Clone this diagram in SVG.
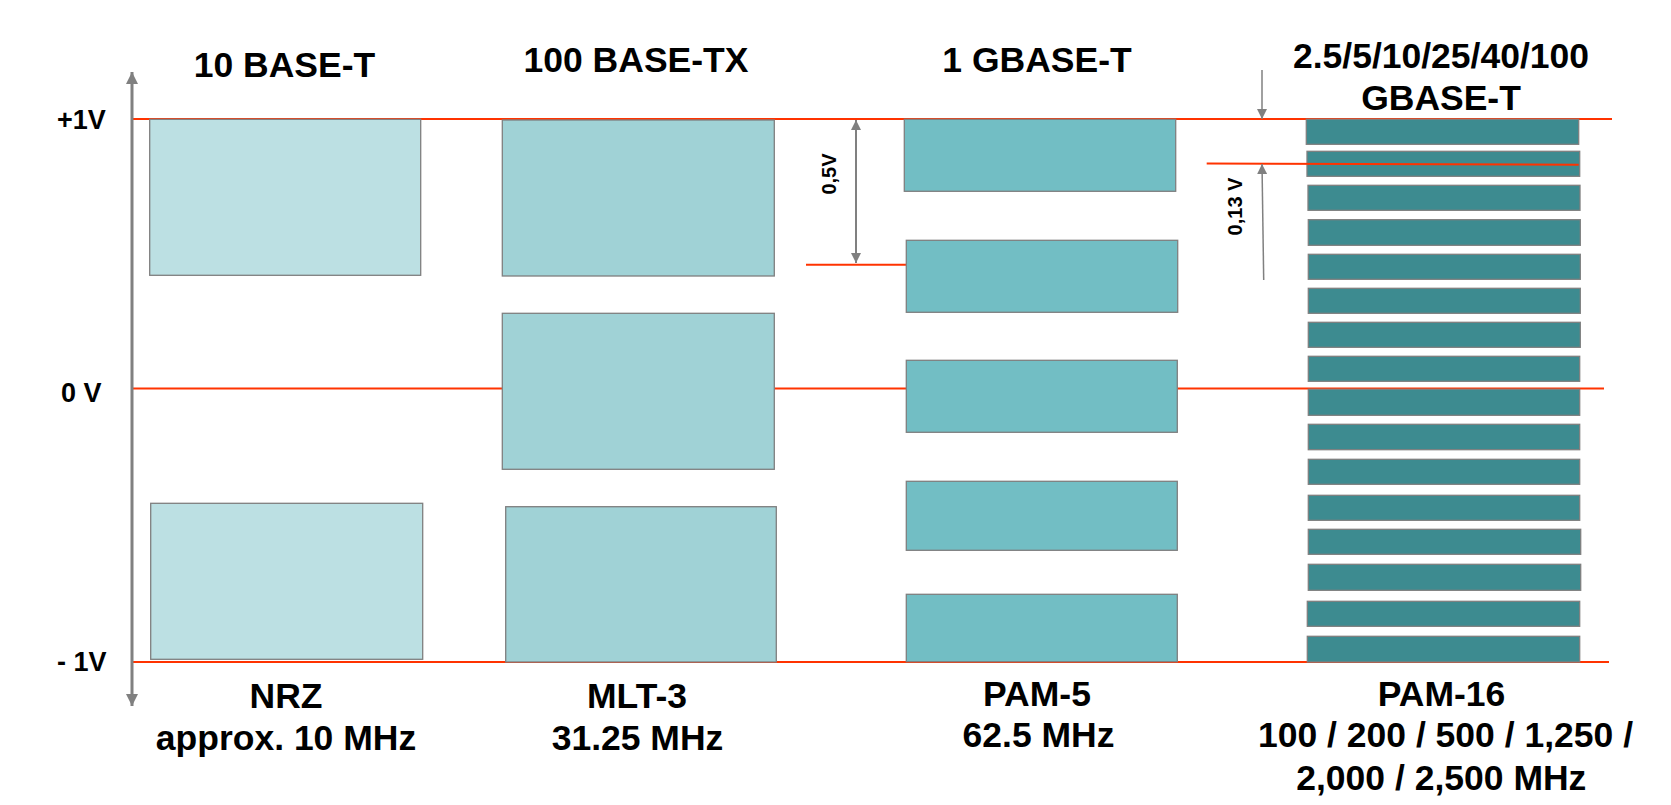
<svg xmlns="http://www.w3.org/2000/svg" width="1671" height="805" viewBox="0 0 1671 805">
<defs>
<style>
text{font-family:"Liberation Sans",Arial,sans-serif;font-weight:bold;fill:#000}
.t{font-size:35.5px;text-anchor:middle}
.v{font-size:27px}
.s{font-size:20px;text-anchor:middle}
.r{stroke:#7f7f7f;stroke-width:1.3}
.c1{fill:#bce0e3}.c2{fill:#a0d2d6}.c3{fill:#72bec4}.c4{fill:#3d8b90}
.red{stroke:#ff3300;stroke-width:2;fill:none}
.g{stroke:#808080;fill:none}
</style>
<marker id="ah" viewBox="0 0 10 10" refX="10" refY="5" markerWidth="10" markerHeight="10" markerUnits="userSpaceOnUse" orient="auto-start-reverse"><path d="M0,0 L10,5 L0,10 z" fill="#808080"/></marker>
<marker id="ahb" viewBox="0 0 12 12" refX="12" refY="6" markerWidth="12" markerHeight="12" markerUnits="userSpaceOnUse" orient="auto-start-reverse"><path d="M0,0 L12,6 L0,12 z" fill="#808080"/></marker>
</defs>
<rect width="1671" height="805" fill="#fff"/>
<g id="levels">
<line class="red" x1="132" y1="119" x2="1612" y2="119"/>
<line class="red" x1="132" y1="388.5" x2="1604" y2="388.5"/>
<line class="red" x1="132" y1="662" x2="1609" y2="662"/>
<line class="red" x1="806" y1="264.7" x2="906" y2="264.7"/>
</g>
<g id="col-10base-t">
<text class="t" x="284.5" y="76.7">10 BASE-T</text>
<rect class="r c1" x="149.7" y="119.3" width="271" height="156"/>
<rect class="r c1" x="150.7" y="503.3" width="272" height="156"/>
<text class="t" x="286" y="708.3">NRZ</text>
<text class="t" x="286" y="750">approx. 10 MHz</text>
</g>
<g id="col-100base-tx">
<text class="t" x="636" y="72.3">100 BASE-TX</text>
<rect class="r c2" x="502.3" y="120" width="272" height="156"/>
<rect class="r c2" x="502.3" y="313.3" width="272" height="156"/>
<rect class="r c2" x="505.7" y="506.7" width="270.6" height="155.3"/>
<text class="t" x="637" y="708.3">MLT-3</text>
<text class="t" x="637.5" y="750">31.25 MHz</text>
</g>
<g id="col-1gbase-t">
<text class="t" x="1037" y="71.7">1 GBASE-T</text>
<rect class="r c3" x="904.3" y="119.3" width="271.4" height="72"/>
<rect class="r c3" x="906.3" y="240.3" width="271.4" height="72"/>
<rect class="r c3" x="906.3" y="360.3" width="271" height="72"/>
<rect class="r c3" x="906.3" y="481.3" width="271" height="69"/>
<rect class="r c3" x="906.3" y="594.3" width="271" height="67.4"/>
<text class="t" x="1037" y="706">PAM-5</text>
<text class="t" x="1038.5" y="747.3">62.5 MHz</text>
</g>
<g id="col-multigbase-t">
<text class="t" x="1441" y="67.7">2.5/5/10/25/40/100</text>
<text class="t" x="1441" y="110">GBASE-T</text>
<rect class="r c4" x="1306.3" y="119.3" width="272.4" height="25"/>
<rect class="r c4" x="1307" y="151.3" width="272.7" height="25"/>
<rect class="r c4" x="1308" y="185.3" width="272" height="25"/>
<rect class="r c4" x="1308.3" y="219.7" width="272" height="25.6"/>
<rect class="r c4" x="1308.3" y="254.3" width="272" height="25"/>
<rect class="r c4" x="1308.3" y="288.3" width="272" height="25"/>
<rect class="r c4" x="1308.3" y="322.3" width="272" height="25"/>
<rect class="r c4" x="1308.3" y="356.3" width="271.4" height="25"/>
<rect class="r c4" x="1308.3" y="389.3" width="271.4" height="26"/>
<rect class="r c4" x="1308.3" y="424.3" width="271.4" height="25.4"/>
<rect class="r c4" x="1308.3" y="459.3" width="271.4" height="25"/>
<rect class="r c4" x="1308.3" y="495.3" width="271.4" height="25"/>
<rect class="r c4" x="1308.3" y="529.3" width="272.4" height="25"/>
<rect class="r c4" x="1308.3" y="564.3" width="272.4" height="26"/>
<rect class="r c4" x="1307.3" y="601.3" width="272.4" height="25"/>
<rect class="r c4" x="1307.3" y="636.3" width="272.4" height="25.7"/>
<line class="red" x1="1206.7" y1="163.5" x2="1578.7" y2="164.7"/>
<text class="t" x="1441.5" y="706">PAM-16</text>
<text class="t" x="1445.5" y="747">100 / 200 / 500 / 1,250 /</text>
<text class="t" x="1441.3" y="790">2,000 / 2,500 MHz</text>
</g>
<g id="axis">
<line class="g" x1="132" y1="72" x2="132" y2="706" stroke-width="3" marker-start="url(#ahb)" marker-end="url(#ahb)"/>
<text class="v" x="57" y="129">+1V</text>
<text class="v" x="61" y="401.7">0 V</text>
<text class="v" x="57" y="670.7">- 1V</text>
</g>
<g id="connectors">
<line class="g" x1="856" y1="120" x2="856" y2="263" stroke-width="2" marker-start="url(#ah)" marker-end="url(#ah)"/>
<text class="s" transform="translate(836,174) rotate(-90)">0,5V</text>
<line class="g" x1="1262" y1="70" x2="1262" y2="119" stroke-width="1.5" marker-end="url(#ah)"/>
<line class="g" x1="1263.7" y1="280" x2="1262" y2="164" stroke-width="1.5" marker-end="url(#ah)"/>
<text class="s" transform="translate(1242,206.5) rotate(-90)">0,13 V</text>
</g>
</svg>
